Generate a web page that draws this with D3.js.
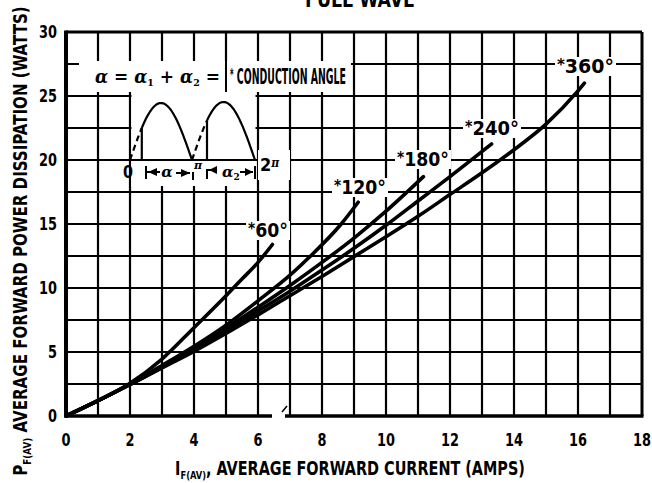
<!DOCTYPE html>
<html><head><meta charset="utf-8">
<script src="https://cdn.jsdelivr.net/npm/d3@7"></script>
<style>
html,body{margin:0;padding:0;background:#fff;}
svg{display:block;}
.cond{font-family:"Liberation Sans Narrow","DejaVu Sans Condensed","Arial Narrow",sans-serif;font-weight:bold;font-stretch:condensed;}
</style></head>
<body>
<svg id="chart" width="652" height="483"></svg>
<script>
// ---- data ----
const xTicks = [0, 2, 4, 6, 8, 10, 12, 14, 16, 18];
const yTicks = [0, 5, 10, 15, 20, 25, 30];
const angles = ["60°", "120°", "180°", "240°", "360°"];
const curve60  = [[0,0],[1,1.2],[2,2.55],[3,4.45],[4,6.9],[5,9.4],[5.5,10.7],[6,12.0],[6.45,13.4]];
const curve120 = [[0,0],[1,1.2],[2,2.5],[3,3.95],[4,5.45],[5,7.1],[6,9.0],[7,11.0],[7.6,12.4],[8.6,15.0],[9.13,16.7]];
const curve180 = [[0,0],[1,1.2],[2,2.48],[3,3.85],[4,5.3],[5,6.85],[6,8.5],[7,10.2],[8,12.0],[9,13.9],[10,16.0],[11.17,18.7]];
const curve240 = [[0,0],[1,1.2],[2,2.46],[3,3.8],[4,5.2],[5,6.65],[6,8.2],[7,9.75],[8,11.4],[9,13.1],[10,14.9],[11,16.8],[12,18.7],[13.3,21.25]];
const curve360 = [[0,0],[1,1.2],[2,2.45],[3,3.75],[4,5.05],[5,6.45],[6,7.9],[7,9.4],[8,10.9],[9,12.45],[10,14.0],[11,15.6],[12,17.3],[13,19.0],[14,20.8],[15,22.8],[16,25.4],[16.2,26.0]];
const curves = [curve60, curve120, curve180, curve240, curve360];

const svg = d3.select("#chart");
const x = d3.scaleLinear().domain([0, 18]).range([66, 642]);
const y = d3.scaleLinear().domain([0, 30]).range([416, 32]);

// squeeze a text horizontally to a target width, keeping its anchor point
function fit(sel, target) {
  const node = sel.node();
  const bb = node.getBBox();
  const s = target / bb.width;
  const anchor = sel.attr("text-anchor");
  const ax = anchor === "middle" ? bb.x + bb.width / 2 : anchor === "end" ? bb.x + bb.width : bb.x;
  const prev = sel.attr("transform") || "";
  sel.attr("transform", prev + ` translate(${ax},0) scale(${s},1) translate(${-ax},0)`);
  return sel;
}

// ---- grid ----
const g = svg.append("g");
g.selectAll("line.v").data(d3.range(1, 18)).join("line")
  .attr("x1", d => x(d)).attr("x2", d => x(d)).attr("y1", y(30)).attr("y2", y(0))
  .attr("stroke", "#000").attr("stroke-width", 2.2);
g.selectAll("line.h").data(d3.range(1, 12).map(i => i * 2.5)).join("line")
  .attr("x1", x(0)).attr("x2", x(18)).attr("y1", d => y(d)).attr("y2", d => y(d))
  .attr("stroke", "#000").attr("stroke-width", 2.2);

// ---- inset white areas ----
g.append("rect").attr("x", 79).attr("y", 61).attr("width", 272).attr("height", 31).attr("fill", "#fff");
g.append("rect").attr("x", 131.5).attr("y", 92).attr("width", 124).attr("height", 94).attr("fill", "#fff");
g.append("rect").attr("x", 258).attr("y", 150).attr("width", 32).attr("height", 30).attr("fill", "#fff");
g.append("line").attr("x1", x(5)).attr("x2", x(5)).attr("y1", 61).attr("y2", 92).attr("stroke", "#000").attr("stroke-width", 2);

// ---- frame ----
svg.append("line").attr("x1", x(0)).attr("x2", x(0)).attr("y1", y(30) - 1.5).attr("y2", y(0) + 1.5).attr("stroke", "#000").attr("stroke-width", 4);
svg.append("line").attr("x1", x(0)).attr("x2", x(18)).attr("y1", y(30)).attr("y2", y(30)).attr("stroke", "#000").attr("stroke-width", 3);
svg.append("line").attr("x1", x(18)).attr("x2", x(18)).attr("y1", y(30)).attr("y2", y(0)).attr("stroke", "#000").attr("stroke-width", 3);
svg.append("line").attr("x1", x(0)).attr("x2", 272).attr("y1", y(0)).attr("y2", y(0)).attr("stroke", "#000").attr("stroke-width", 3.5);
svg.append("line").attr("x1", 285).attr("x2", x(18) + 1.5).attr("y1", y(0)).attr("y2", y(0)).attr("stroke", "#000").attr("stroke-width", 3.5);
svg.append("line").attr("x1", 282).attr("x2", 287).attr("y1", 412).attr("y2", 406).attr("stroke", "#000").attr("stroke-width", 1.5);

// ---- curves ----
const line = d3.line().x(d => x(d[0])).y(d => y(d[1])).curve(d3.curveMonotoneX);
svg.selectAll("path.curve").data(curves).join("path")
  .attr("d", line).attr("fill", "none").attr("stroke", "#000")
  .attr("stroke-width", 3.6).attr("stroke-linecap", "round");

// ---- curve labels ----
const labelPos = [[247, 237, 44, 40], [333, 194, 56, 52], [396, 166, 56, 52], [464, 135, 58, 54], [556, 73, 61, 57]];
angles.forEach((a, i) => {
  const [lx, ly, w, tl] = labelPos[i];
  svg.append("rect").attr("x", lx - 1).attr("y", ly - 16).attr("width", w).attr("height", 19).attr("fill", "#fff");
  const t = svg.append("text").attr("class", "cond").attr("x", lx + 1).attr("y", ly).attr("font-size", 19).attr("text-anchor", "start");
  t.append("tspan").text("*").attr("font-size", 15).attr("dy", -3);
  t.append("tspan").text(a).attr("dy", 3);
  fit(t, tl);
});

// ---- tick labels ----
svg.selectAll("text.xt").data(xTicks).join("text").attr("class", "cond")
  .attr("x", d => x(d)).attr("y", 446).attr("text-anchor", "middle").attr("font-size", 18.5)
  .text(d => d).each(function(d) { fit(d3.select(this), String(d).length * 9); });
svg.selectAll("text.yt").data(yTicks).join("text").attr("class", "cond")
  .attr("x", 57).attr("y", d => y(d) + 6.5).attr("text-anchor", "end").attr("font-size", 18.5)
  .text(d => d).each(function(d) { fit(d3.select(this), String(d).length * 9); });

// ---- axis titles ----
const xt = svg.append("text").attr("class", "cond").attr("x", 350).attr("y", 475)
  .attr("text-anchor", "middle").attr("font-size", 19);
xt.append("tspan").text("I");
xt.append("tspan").text("F(AV)").attr("font-size", 11).attr("dy", 4);
xt.append("tspan").text(", AVERAGE FORWARD CURRENT (AMPS)").attr("dy", -4);
fit(xt, 350);

const ytg = svg.append("g").attr("transform", "translate(27,241) rotate(-90)");
const yt = ytg.append("text").attr("class", "cond").attr("x", 0).attr("y", 0)
  .attr("text-anchor", "middle").attr("font-size", 19);
yt.append("tspan").text("P");
yt.append("tspan").text("F(AV)").attr("font-size", 11).attr("dy", 4);
yt.append("tspan").text("  AVERAGE FORWARD POWER DISSIPATION (WATTS)").attr("dy", -4);
fit(yt, 470);

// ---- title ----
fit(svg.append("text").attr("class", "cond").attr("x", 360).attr("y", 7).attr("text-anchor", "middle")
  .attr("font-size", 21).text("FULL WAVE"), 110);

// ---- inset text ----
const it = svg.append("text").attr("x", 95).attr("y", 83).attr("font-size", 18).attr("text-anchor", "start")
  .attr("font-family", "'DejaVu Serif', serif").attr("font-weight", "bold");
it.append("tspan").text("α").attr("font-style", "italic");
it.append("tspan").text(" = ");
it.append("tspan").text("α").attr("font-style", "italic");
it.append("tspan").text("1").attr("font-size", 10).attr("dy", 3);
it.append("tspan").text(" + ").attr("dy", -3);
it.append("tspan").text("α").attr("font-style", "italic");
it.append("tspan").text("2").attr("font-size", 10).attr("dy", 3);
it.append("tspan").text(" =").attr("dy", -3);
fit(it, 125);
const ct = svg.append("text").attr("class", "cond").attr("x", 230).attr("y", 84).attr("font-size", 20.5).attr("text-anchor", "start");
ct.append("tspan").text("*").attr("font-size", 15).attr("dy", -4);
ct.append("tspan").text(" CONDUCTION ANGLE").attr("dy", 4);
fit(ct, 116);

// ---- inset waveform ----
function arch(x0, x1, yb, h, t0, t1) {
  const pts = d3.range(0, 41).map(i => {
    const t = t0 + (t1 - t0) * i / 40;
    return [x0 + (x1 - x0) * t, yb - h * Math.sin(Math.PI * t)];
  });
  return d3.line()(pts);
}
const wf = svg.append("g").attr("fill", "none").attr("stroke", "#000").attr("stroke-width", 2.2);
wf.append("line").attr("x1", 130).attr("x2", 256).attr("y1", 160).attr("y2", 160);
wf.append("path").attr("d", arch(130, 192, 160, 57, 0, 0.19)).attr("stroke-dasharray", "6,4");
wf.append("path").attr("d", arch(130, 192, 160, 57, 0.19, 1));
wf.append("line").attr("x1", 141.8).attr("x2", 141.8).attr("y1", 160 - 57 * Math.sin(Math.PI * 0.19)).attr("y2", 160);
wf.append("path").attr("d", arch(192, 255, 160, 58, 0, 0.24)).attr("stroke-dasharray", "6,4");
wf.append("path").attr("d", arch(192, 255, 160, 58, 0.24, 1));
wf.append("line").attr("x1", 207).attr("x2", 207).attr("y1", 160 - 58 * Math.sin(Math.PI * 0.24)).attr("y2", 160);

// dimension marks
const dm = svg.append("g").attr("stroke", "#000").attr("stroke-width", 2).attr("fill", "none");
dm.append("line").attr("x1", 146).attr("x2", 146).attr("y1", 166).attr("y2", 179);
dm.append("line").attr("x1", 146).attr("x2", 160).attr("y1", 172).attr("y2", 172);
dm.append("line").attr("x1", 176).attr("x2", 190).attr("y1", 173).attr("y2", 173);
dm.append("line").attr("x1", 193).attr("x2", 193).attr("y1", 172).attr("y2", 180);
dm.append("path").attr("d", "M207,179 V170 H214");
dm.append("line").attr("x1", 240).attr("x2", 253).attr("y1", 172).attr("y2", 172);
dm.append("line").attr("x1", 255).attr("x2", 255).attr("y1", 166).attr("y2", 179);
const ar = svg.append("g").attr("fill", "#000");
ar.append("path").attr("d", "M148,172 L157,168 L157,176 Z");
ar.append("path").attr("d", "M190,173 L181,169 L181,177 Z");
ar.append("path").attr("d", "M209,170 L217,166 L217,174 Z");
ar.append("path").attr("d", "M253,172 L245,168 L245,176 Z");
fit(svg.append("text").attr("class", "cond").attr("x", 128).attr("y", 178).attr("text-anchor", "middle").attr("font-size", 18).text("0"), 10);
svg.append("text").attr("x", 167).attr("y", 177).attr("text-anchor", "middle").attr("font-size", 15)
  .attr("font-family", "'DejaVu Serif', serif").attr("font-style", "italic").attr("font-weight", "bold").text("α");
svg.append("text").attr("x", 198).attr("y", 169).attr("text-anchor", "middle").attr("font-size", 11)
  .attr("font-family", "'DejaVu Serif', serif").attr("font-style", "italic").attr("font-weight", "bold").text("π");
const a2 = svg.append("text").attr("x", 222).attr("y", 177).attr("font-size", 15)
  .attr("font-family", "'DejaVu Serif', serif").attr("font-style", "italic").attr("font-weight", "bold");
a2.append("tspan").text("α");
a2.append("tspan").text("2").attr("font-size", 9).attr("dy", 3).attr("font-style", "normal");
const tp = svg.append("text").attr("class", "cond").attr("x", 260).attr("y", 171).attr("font-size", 18);
tp.append("tspan").text("2");
tp.append("tspan").text("π").attr("font-size", 12).attr("dy", -4).attr("font-family", "'DejaVu Serif', serif").attr("font-style", "italic");
</script>
</body></html>
